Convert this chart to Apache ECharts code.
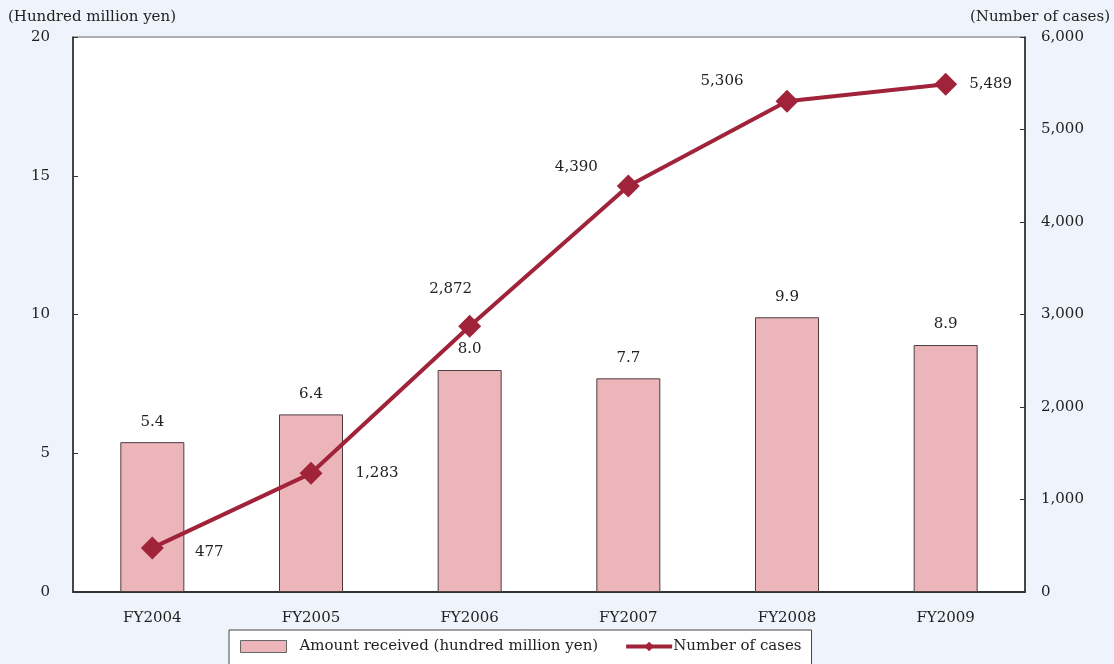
<!DOCTYPE html>
<html>
<head>
<meta charset="utf-8">
<script src="https://cdn.jsdelivr.net/npm/echarts@6/dist/echarts.min.js"></script>
<style>
  html, body { margin: 0; padding: 0; background: #eff4fc; }
  #chart { width: 1114px; height: 664px; }
</style>
</head>
<body>
<div id="chart"></div>
<script>
// data
const categories = ['FY2004', 'FY2005', 'FY2006', 'FY2007', 'FY2008', 'FY2009']
const amountReceived = [5.4, 6.4, 8.0, 7.7, 9.9, 8.9]
const numberOfCases = [477, 1283, 2872, 4390, 5306, 5489]
// label offsets for the line values (as in the original, placed beside the points)
const caseLabelOffsets = [[57, 4], [66, 0], [-19, -37], [-52, -19], [-65, -20], [45, 0]]

const FONT = '"DejaVu Serif", "Liberation Serif", serif'
const FS = 15
const LINE_COLOR = '#a0233a'
const BAR_COLOR = '#ebb5ba'

const chart = echarts.init(document.getElementById('chart'))

const fmt = v => v.toLocaleString('en-US')

chart.setOption({
  backgroundColor: '#eff4fc',
  textStyle: { fontFamily: FONT, color: '#222' },
  animation: false,
  grid: {
    left: 73,
    right: 89,
    top: 37,
    bottom: 72,
    show: true,
    backgroundColor: '#fff',
    borderColor: '#666',
    borderWidth: 1
  },
  graphic: [
    { type: 'text', left: 8, top: 10, style: { text: '(Hundred million yen)', font: FS + 'px ' + FONT, fill: '#222' } },
    { type: 'text', right: 4, top: 10, style: { text: '(Number of cases)', font: FS + 'px ' + FONT, fill: '#222' } }
  ],
  legend: {
    left: 229,
    top: 630,
    backgroundColor: '#fff',
    borderColor: '#444',
    borderWidth: 1,
    borderRadius: 0,
    padding: [9, 10, 14, 11],
    itemGap: 26,
    itemWidth: 46,
    itemHeight: 12,
    textStyle: { fontFamily: FONT, fontSize: FS, color: '#222' },
    data: [
      {
        name: 'Amount received (hundred million yen)',
        icon: 'rect',
        itemStyle: { borderWidth: 1, borderColor: '#666' },
        textStyle: { padding: [0, 0, 0, 8] }
      },
      {
        name: 'Number of cases',
        lineStyle: { width: 4, color: LINE_COLOR },
        textStyle: { padding: [0, 0, 0, -4] }
      }
    ]
  },
  xAxis: {
    type: 'category',
    data: categories,
    axisLine: { lineStyle: { color: '#333', width: 2 } },
    axisTick: { inside: true, length: 6, lineStyle: { color: '#333' } },
    axisLabel: { fontFamily: FONT, fontSize: FS, color: '#222', margin: 19 }
  },
  yAxis: [
    {
      type: 'value',
      min: 0, max: 20, interval: 5,
      axisLine: { show: true, lineStyle: { color: '#222', width: 1.5 } },
      axisTick: { show: true, inside: true, length: 5, lineStyle: { color: '#333' } },
      axisLabel: { fontFamily: FONT, fontSize: FS, color: '#222', margin: 23 },
      splitLine: { show: false }
    },
    {
      type: 'value',
      min: 0, max: 6000, interval: 1000,
      axisLine: { show: true, lineStyle: { color: '#222', width: 1.5 } },
      axisTick: { show: true, inside: true, length: 5, lineStyle: { color: '#333' } },
      axisLabel: { fontFamily: FONT, fontSize: FS, color: '#222', margin: 16, formatter: fmt },
      splitLine: { show: false }
    }
  ],
  series: [
    {
      name: 'Amount received (hundred million yen)',
      type: 'bar',
      data: amountReceived,
      barWidth: 64,
      itemStyle: { color: BAR_COLOR, borderColor: '#4d3d3f', borderWidth: 1 },
      label: {
        show: true,
        position: 'top',
        distance: 13,
        fontFamily: FONT,
        fontSize: FS,
        color: '#222',
        formatter: p => p.value.toFixed(1)
      }
    },
    {
      name: 'Number of cases',
      type: 'line',
      yAxisIndex: 1,
      data: numberOfCases.map((v, i) => ({
        value: v,
        label: { offset: caseLabelOffsets[i] }
      })),
      symbol: 'diamond',
      symbolSize: 23,
      lineStyle: { color: LINE_COLOR, width: 4 },
      itemStyle: { color: LINE_COLOR },
      label: {
        show: true,
        position: 'inside',
        fontFamily: FONT,
        fontSize: FS,
        color: '#222',
        formatter: p => fmt(p.value)
      },
      z: 3
    }
  ]
})
</script>
</body>
</html>
